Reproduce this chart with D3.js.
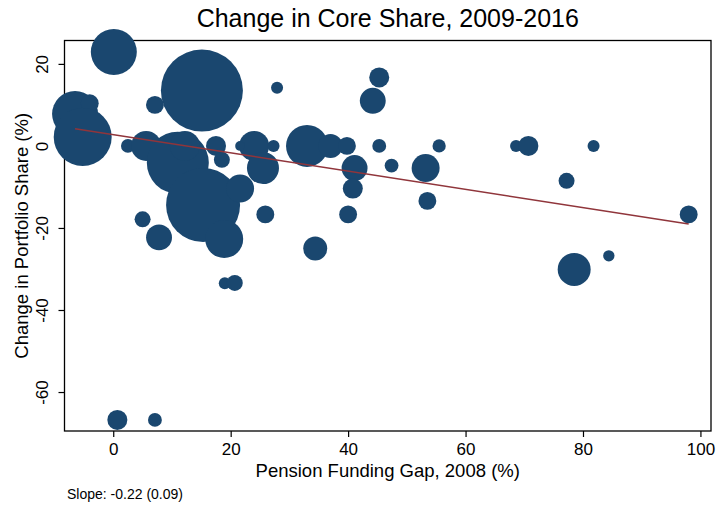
<!DOCTYPE html>
<html>
<head>
<meta charset="utf-8">
<script src="https://cdn.jsdelivr.net/npm/d3@7"></script>
<style>
  body { margin: 0; background: #fff; }
  svg { display: block; font-family: "Liberation Sans", Arial, sans-serif; }
</style>
</head>
<body>
<div class="container"></div>
<script>
// funding gap 2008 (%), change in core share (%), plan weight
const fundingGap = [
    0.1, 15.1, -6.5, -4.0, -5.2, 2.5, 5.6, 7.1, 11.0, 12.2,
    15.3, 18.9, 21.6, 17.5, 18.5, 24.0, 27.3, 21.6, 27.9, 25.5,
    25.9, 7.8, 5.0, 19.0, 20.7, 33.0, 37.0, 39.8, 41.1, 40.8,
    40.0, 44.2, 45.3, 45.3, 47.4, 53.2, 53.5, 55.5, 34.4, 68.6,
    70.7, 81.8, 77.2, 98.0, 78.5, 84.4, 0.7, 7.1
];
const shareChange = [
    22.9, 13.5, 7.8, 10.4, 2.2, 0, 0, 10.0, -4.1, 0,
    -14.4, -22.7, -10.4, 0, -3.4, 0, 0, 0, 14.2, -5.4,
    -16.7, -22.3, -17.9, -33.5, -33.4, 0, 0, 0, -5.4, -10.4,
    -16.7, 11.0, 16.7, 0, -4.8, -5.4, -13.4, 0, -25.0, 0,
    0, 0, -8.5, -16.7, -30.1, -26.8, -66.8, -66.8
];
const planWeight = [
    132, 420, 132, 20, 210, 12, 56, 20, 240, 56,
    342, 90, 49, 25, 16, 56, 9, 6, 9, 64,
    20, 42, 16, 9, 16, 110, 36, 20, 42, 25,
    20, 42, 25, 12, 12, 49, 20, 11, 36, 9,
    25, 9, 16, 20, 68, 8, 25, 12
];

const xTicks = [0, 20, 40, 60, 80, 100];
const yTicks = [-60, -40, -20, 0, 20];

// fitted line as reported
const fitIntercept = 2.74;
const fitSlope = -0.222;
const slopeNote = "Slope: -0.22 (0.09)";

const width = 717;
const height = 506;
const margin = { top: 40.5, right: 6, bottom: 75, left: 64.5 };

const svg = d3.select(".container")
    .append("svg")
    .attr("width", width)
    .attr("height", height);

const x = d3.scaleLinear()
    .domain([-8.3, 101.8])
    .range([margin.left, width - margin.right]);

const y = d3.scaleLinear()
    .domain([-69.5, 25.7])
    .range([height - margin.bottom, margin.top]);

const r = d3.scaleSqrt()
    .domain([0, d3.max(planWeight)])
    .range([0, 41]);

const points = fundingGap.map((g, i) => ({ x: g, y: shareChange[i], w: planWeight[i] }));

// frame
svg.append("rect")
    .attr("x", margin.left)
    .attr("y", margin.top)
    .attr("width", width - margin.right - margin.left)
    .attr("height", height - margin.bottom - margin.top)
    .attr("fill", "none")
    .attr("stroke", "#000")
    .attr("stroke-width", 1.3);

// plain hyphen for negatives, like the original
const plain = (d) => String(d);

const xAxis = svg.append("g")
    .attr("transform", `translate(0, ${height - margin.bottom})`)
    .call(d3.axisBottom(x).tickValues(xTicks).tickFormat(plain).tickSize(6).tickPadding(3));

const yAxis = svg.append("g")
    .attr("transform", `translate(${margin.left}, 0)`)
    .call(d3.axisLeft(y).tickValues(yTicks).tickFormat(plain).tickSize(6).tickPadding(3));

[xAxis, yAxis].forEach((a) => {
    a.select(".domain").remove();
    a.selectAll(".tick line").attr("stroke", "#000").attr("stroke-width", 1.2);
    a.selectAll(".tick text")
        .attr("font-size", "17px")
        .attr("fill", "#000")
        .attr("font-family", "Liberation Sans, Arial, sans-serif");
});

xAxis.selectAll(".tick text")
    .attr("dy", null)
    .attr("y", 24);

yAxis.selectAll(".tick text")
    .attr("transform", "rotate(-90)")
    .attr("text-anchor", "middle")
    .attr("x", 0)
    .attr("dx", null)
    .attr("dy", null)
    .attr("y", -16.5);

// bubbles
svg.append("g")
    .selectAll("circle")
    .data(points)
    .enter()
    .append("circle")
    .attr("cx", (d) => x(d.x))
    .attr("cy", (d) => y(d.y))
    .attr("r", (d) => r(d.w))
    .attr("fill", "#1a476f");

// fit line
const xMin = d3.min(fundingGap);
const xMax = d3.max(fundingGap);
svg.append("line")
    .attr("x1", x(xMin))
    .attr("y1", y(fitIntercept + fitSlope * xMin))
    .attr("x2", x(xMax))
    .attr("y2", y(fitIntercept + fitSlope * xMax))
    .attr("stroke", "#90353b")
    .attr("stroke-width", 1.5);

// titles
svg.append("text")
    .attr("x", (margin.left + width - margin.right) / 2)
    .attr("y", 27)
    .attr("text-anchor", "middle")
    .attr("font-size", "25px")
    .attr("fill", "#000")
    .text("Change in Core Share, 2009-2016");

svg.append("text")
    .attr("x", (margin.left + width - margin.right) / 2)
    .attr("y", 477)
    .attr("text-anchor", "middle")
    .attr("font-size", "18.5px")
    .attr("fill", "#000")
    .text("Pension Funding Gap, 2008 (%)");

svg.append("text")
    .attr("transform", `translate(27.5, ${(margin.top + height - margin.bottom) / 2}) rotate(-90)`)
    .attr("text-anchor", "middle")
    .attr("font-size", "18.5px")
    .attr("fill", "#000")
    .text("Change in Portfolio Share (%)");

svg.append("text")
    .attr("x", 67)
    .attr("y", 499)
    .attr("font-size", "14px")
    .attr("fill", "#000")
    .text(slopeNote);
</script>
</body>
</html>
